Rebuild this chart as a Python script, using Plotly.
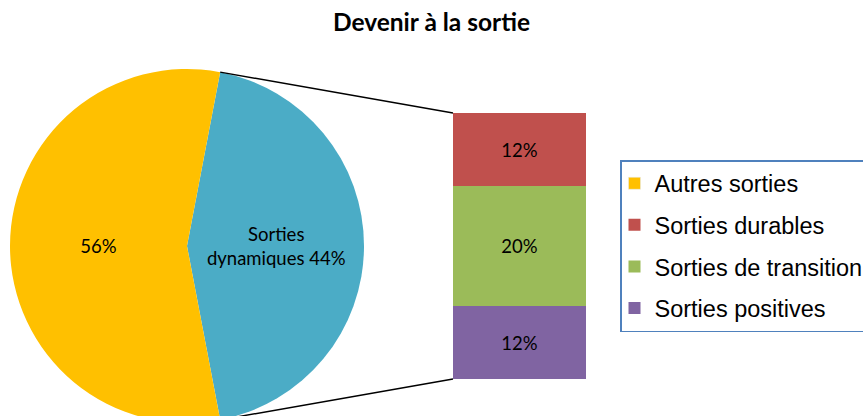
import math
import plotly.graph_objects as go

# ---- data ----
pie_labels = ["Sorties dynamiques", "Autres sorties"]
pie_values = [44, 56]
pie_colors = ["#4BACC6", "#FFC000"]
pie_templates = ["Sorties<br>dynamiques %{value}%", "%{value}%"]

bar_labels = ["Sorties positives", "Sorties de transition", "Sorties durables"]
bar_values = [12, 20, 12]
bar_colors = ["#8064A2", "#9BBB59", "#C0504D"]
bar_ranks = [4, 3, 2]

legend_other_label = "Autres sorties"
title_text = "Devenir à la sortie"

# ---- geometry (pixels) ----
W, H = 863, 424
cx, cy, r = 187, 246, 177
bx0, bx1, by0, by1 = 453, 586, 113, 379

def px(x):
    return x / W

def py(y):
    return 1 - y / H

total = sum(pie_values)
share = pie_values[0] / total
rotation = 90 - 360 * share / 2

fig = go.Figure()

fig.add_trace(go.Pie(
    labels=pie_labels, values=pie_values, sort=False, direction="clockwise",
    rotation=rotation, marker=dict(colors=pie_colors, line=dict(width=0)),
    texttemplate=pie_templates, textposition="inside",
    insidetextorientation="horizontal",
    textfont=dict(family="Lato", size=18.5, color="#000000"),
    domain=dict(x=[px(cx - r), px(cx + r)], y=[py(cy + r), py(cy - r)]),
    showlegend=False, hoverinfo="label+percent",
))

# dummy legend entry for the pie's other slice
fig.add_trace(go.Bar(
    x=[0], y=[None], name=legend_other_label, marker=dict(color=pie_colors[1]),
    legendrank=1, legendgroup="g0", showlegend=True,
))

for i, (lab, val, col, rk) in enumerate(zip(bar_labels, bar_values, bar_colors, bar_ranks)):
    fig.add_trace(go.Bar(
        x=[0], y=[val], name=lab, marker=dict(color=col, line=dict(width=0)),
        width=1, text=[f"{val}%"], textposition="inside", insidetextanchor="middle",
        textfont=dict(family="Lato", size=18.5, color="#000000"),
        legendrank=rk, legendgroup=f"g{i+1}",
    ))

# connector lines computed from pie geometry
a1 = math.radians(rotation)
a2 = math.radians(rotation + 360 * share)
p1 = (cx + r * math.sin(a1), cy - r * math.cos(a1))
p2 = (cx + r * math.sin(a2), cy - r * math.cos(a2))
fig.add_shape(type="line", xref="paper", yref="paper",
              x0=px(p1[0]), y0=py(p1[1]), x1=px(bx0), y1=py(by0),
              line=dict(color="black", width=1.5))
fig.add_shape(type="line", xref="paper", yref="paper",
              x0=px(p2[0]), y0=py(p2[1]), x1=px(bx0), y1=py(by1),
              line=dict(color="black", width=1.5))

fig.update_layout(
    width=W, height=H,
    margin=dict(l=0, r=0, t=0, b=0, autoexpand=False),
    paper_bgcolor="white", plot_bgcolor="white",
    barmode="stack", bargap=0,
    title=dict(text=f"<b>{title_text}</b>", x=0.5, xref="container", xanchor="center",
               y=1 - 22 / H, yref="container", yanchor="middle",
               font=dict(family="Lato", size=24.5, color="#000000")),
    xaxis=dict(domain=[px(bx0), px(bx1)], range=[-0.5, 0.5], visible=False, fixedrange=True),
    yaxis=dict(domain=[py(by1), py(by0)], range=[0, pie_values[0]], visible=False, fixedrange=True),
    legend=dict(x=px(620), y=py(160), xanchor="left", yanchor="top",
                bordercolor="#4F81BD", borderwidth=1.5, bgcolor="white",
                font=dict(family="Liberation Sans", size=23.5, color="#000000"),
                traceorder="grouped", tracegroupgap=8, indentation=-7),
    showlegend=True,
)

fig.write_html("out.html", config={"displayModeBar": False},
               post_script="document.body.style.margin='0';document.body.style.overflow='hidden';")
